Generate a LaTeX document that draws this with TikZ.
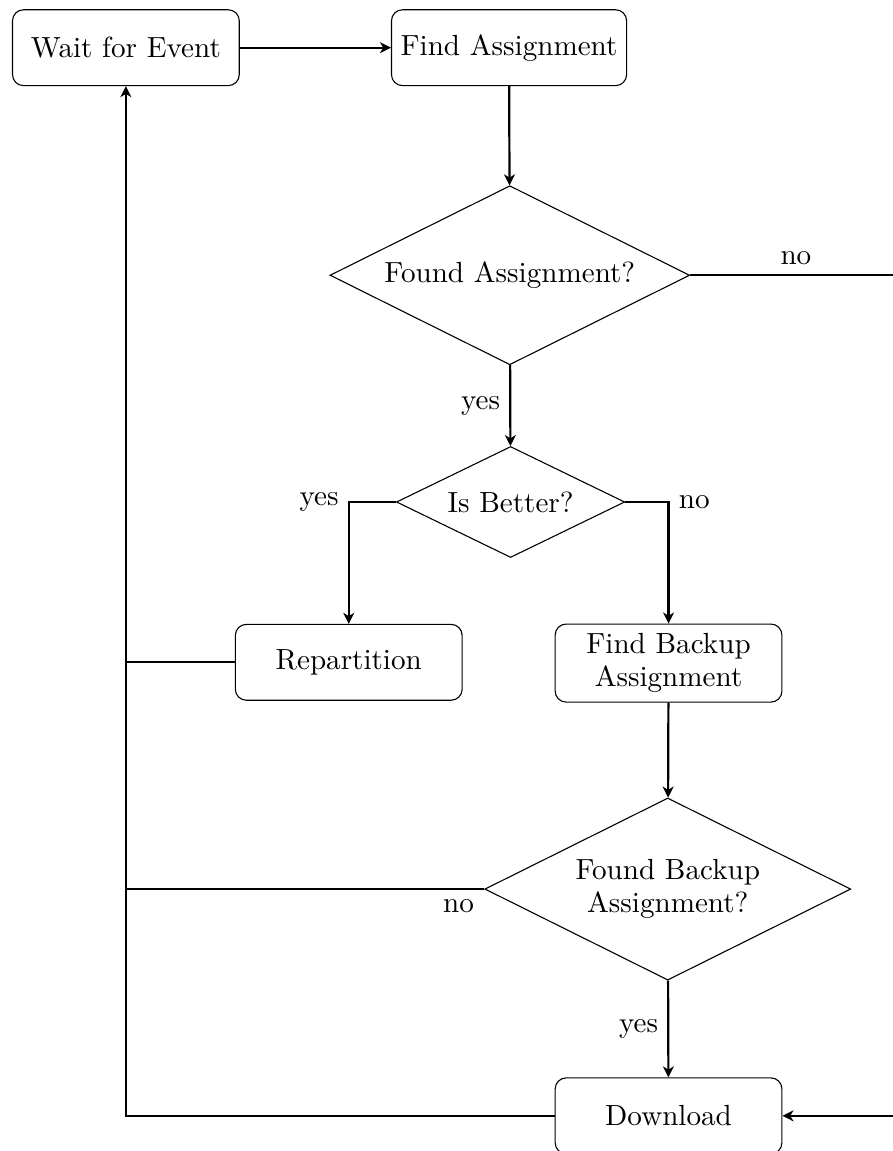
\documentclass[tikz,border=0pt]{standalone}
\usepackage{tikz}
\usetikzlibrary{arrows.meta,shapes.geometric}

\begin{document}
\begin{tikzpicture}[font=\fontsize{10.6}{12.2}\selectfont,
    box/.style={draw,rounded corners=4pt,minimum width=2.9cm,minimum height=0.97cm,align=center},
    decision/.style={draw,diamond,aspect=2,inner sep=0pt,align=center},
    flow/.style={thick},
    arr/.style={thick,-{Stealth[length=4pt,width=4pt,inset=1.2pt]}}]
  \useasboundingbox (0,0) rectangle (11.42,-14.72);
  % nodes
  \node[box] (wait) at (1.61,-0.61) {Wait for Event};
  \node[box] (find) at (6.51,-0.61) {Find Assignment};
  \node[decision,minimum width=4.6cm,minimum height=2.29cm] (found) at (6.52,-3.52) {Found Assignment?};
  \node[decision,minimum width=2.92cm,minimum height=1.42cm] (better) at (6.53,-6.42) {Is Better?};
  \node[box] (repart) at (4.46,-8.47) {Repartition};
  \node[box] (findbk) at (8.55,-8.48) {Find Backup\\Assignment};
  \node[decision,minimum width=4.68cm,minimum height=2.33cm] (foundbk) at (8.54,-11.37) {Found Backup\\Assignment?};
  \node[box] (download) at (8.55,-14.27) {Download};
  \coordinate (rturn) at (11.53,-3.52);
  % connectors
  \draw[arr] (wait) -- (find);
  \draw[arr] (find) -- (found);
  \draw[arr] (found) -- node[left] {yes} (better);
  \draw[arr] (better.west) -| node[pos=0.5,left] {yes} (repart.north);
  \draw[arr] (better.east) -| node[pos=0.5,right] {no} (findbk.north);
  \draw[arr] (findbk) -- (foundbk);
  \draw[arr] (foundbk) -- node[left] {yes} (download);
  \draw[flow] (found.east) -- node[above] {no} (rturn);
  \draw[arr] (rturn) |- (download.east);
  \draw[flow] (repart.west) -- (repart.west -| wait.south);
  \draw[flow] (foundbk.west) -- node[pos=0,below left] {no} (foundbk.west -| wait.south);
  \draw[arr] (download.west) -| (wait.south);
\end{tikzpicture}
\end{document}
